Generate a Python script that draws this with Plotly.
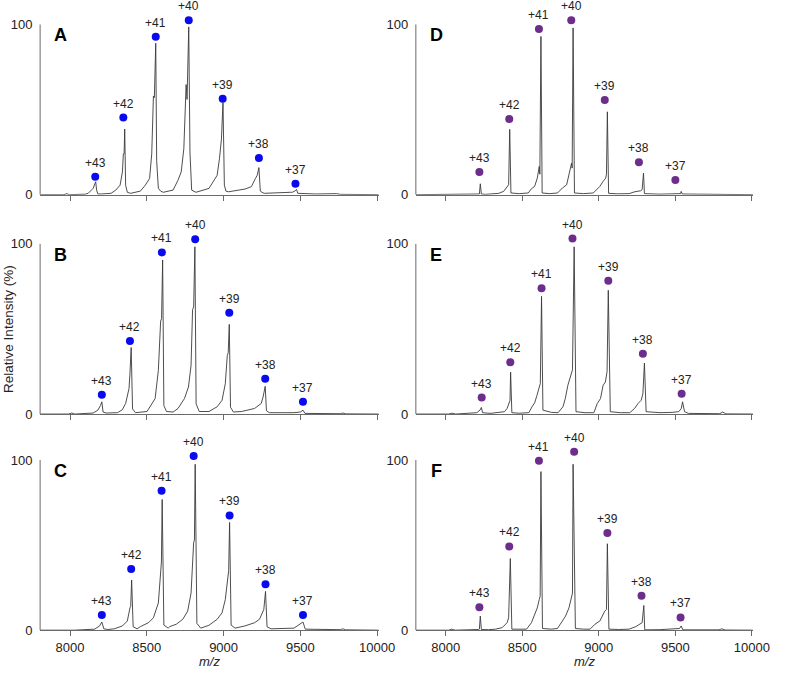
import plotly.graph_objects as go

charges = [43, 42, 41, 40, 39, 38, 37]
x_ticks = [8000, 8500, 9000, 9500, 10000]
y_ticks = [0, 100]

# ---- spectra (m/z, relative intensity) ----
a_mz = [7805, 7960, 7979, 7995, 8100, 8118, 8150, 8160, 8167, 8173, 8181, 8203, 8267, 8298, 8326, 8341, 8347, 8352, 8356, 8362, 8373, 8394,
        8458, 8490, 8518, 8532, 8543, 8549, 8558, 8564, 8575, 8590, 8607, 8671, 8703, 8724, 8741, 8756, 8762, 8773, 8781, 8792, 8820,
        8905, 8937, 8958, 8973, 8986, 8996, 9005, 9015, 9032, 9139, 9181, 9207, 9219, 9230, 9239, 9256, 9266, 9436, 9447, 9464, 9475,
        9483, 9600, 9734, 9760, 10011]
a_int = [0, 0, 0.6, 0, 0.3, 0.8, 3.7, 5.6, 7.6, 2.7, 0.4, 0.4, 0.8, 2.7, 5.6, 13.4, 24, 24, 38.6, 5.6, 1.4, 0.8,
         2.1, 5.6, 9.5, 24, 58, 57, 89, 20, 3.7, 2.1, 1.4, 2.7, 8.5, 13.4, 26.9, 64.7, 56, 98.6, 25, 2.7, 1.4,
         3.7, 8.5, 11.4, 21.1, 32.8, 54.1, 5.6, 2.1, 1.7, 3.3, 4.7, 9.5, 11.4, 15.9, 2.1, 1.1, 0.8, 1.4, 1.4, 2.1, 3.1,
         0.8, 0.4, 0.6, 0.2, 0]

b_mz = [7805, 7990, 8011, 8030, 8150, 8181, 8198, 8207, 8215, 8235, 8309, 8340, 8362, 8384, 8390, 8398, 8407, 8426,
        8501, 8532, 8554, 8575, 8590, 8596, 8603, 8611, 8628, 8671, 8703, 8745, 8771, 8788, 8798, 8805, 8813, 8821, 8841,
        8905, 8958, 8990, 9011, 9024, 9030, 9037, 9045, 9064, 9117, 9202, 9245, 9257, 9271, 9279, 9298, 9458, 9500, 9517,
        9530, 9760, 9777, 9795, 10011]
b_int = [0, 0, 0.6, 0, 0.6, 2.3, 5, 7.2, 1.2, 0.6, 0.8, 2.5, 6.2, 15, 23.6, 39.1, 3, 0.8,
         1.5, 6.2, 9.1, 25.6, 54.7, 56, 90.5, 5, 1.5, 1.2, 3.3, 9.1, 15.9, 28.5, 61.4, 63, 98.3, 6, 1.5,
         1.5, 4.3, 8.1, 17.8, 34.3, 36, 52.7, 4, 1.2, 1.5, 3.3, 6.2, 10, 16.3, 2, 0.8, 0.8, 1.2, 2.3,
         0.4, 0.2, 0.6, 0.1, 0]

c_mz = [7805, 7990, 8011, 8030, 8160, 8192, 8207, 8220, 8245, 8288, 8341, 8373, 8390, 8395, 8401, 8411, 8437,
        8458, 8511, 8543, 8575, 8590, 8595, 8600, 8611, 8639, 8649, 8692, 8734, 8766, 8788, 8805, 8810, 8815, 8826, 8851,
        8905, 8958, 8990, 9011, 9028, 9033, 9039, 9049, 9075, 9139, 9202, 9234, 9262, 9273, 9283, 9309, 9458, 9500, 9517,
        9532, 9760, 9777, 9795, 10011]
c_int = [0, 0, 0.4, 0, 0.6, 2.5, 4.8, 0.8, 0.4, 0.8, 2.5, 5.4, 13.1, 14, 29.5, 2, 0.8,
         2.1, 4.4, 7.3, 16, 39.2, 40, 76.8, 3, 1.2, 2.1, 3.5, 6.4, 11.2, 21.8, 51.7, 53, 97.5, 4, 1.2,
         2.9, 6.4, 10.2, 18, 34.4, 35, 63.3, 3, 1.2, 2.5, 4.4, 6.4, 12.2, 22.8, 2, 0.8, 1.2, 3.5, 4.8,
         0.6, 0.3, 0.8, 0.2, 0]

d_mz = [7805, 8200, 8220, 8226, 8233, 8260, 8347, 8379, 8401, 8411, 8418, 8426, 8480, 8539, 8560, 8581, 8598, 8611,
        8615, 8622, 8630, 8680, 8730, 8762, 8790, 8805, 8822, 8826, 8832, 8841, 8900, 8964, 8985, 9007, 9028, 9045, 9050,
        9056, 9064, 9120, 9198, 9230, 9273, 9283, 9292, 9298, 9400, 9534, 9538, 9545, 10006]
d_int = [0, 0, 0.4, 6.4, 0.4, 0.2, 0.8, 2, 4.3, 5.8, 38.4, 1, 0.6, 1, 3.5, 4.9, 9.7, 16.6,
         12, 93, 1, 0.6, 1, 3.9, 5.8, 11.7, 18.5, 15.6, 98, 1, 0.6, 1, 2.9, 4.9, 7.8, 9.7, 12,
         48.7, 0.8, 0.5, 0.6, 1.6, 2.3, 2.9, 12.7, 0.6, 0.3, 0.6, 1.9, 0.4, 0]

e_mz = [7805, 8020, 8043, 8065, 8203, 8224, 8233, 8241, 8290, 8352, 8384, 8401, 8415, 8420, 8424, 8432, 8480,
        8543, 8564, 8581, 8596, 8611, 8618, 8626, 8635, 8690, 8734, 8766, 8781, 8798, 8815, 8828, 8839, 8851, 8910,
        8968, 8990, 9011, 9028, 9043, 9054, 9062, 9075, 9140, 9202, 9234, 9256, 9277, 9288, 9298, 9309, 9400, 9479,
        9522, 9539, 9547, 9560, 9585, 9790, 9809, 9830, 10006]
e_int = [0, 0, 0.5, 0, 0.8, 2.3, 3.9, 0.8, 0.4, 0.8, 1.4, 3.3, 6.2, 8, 24.6, 0.8, 0.5,
         0.8, 4.3, 6.6, 11, 15.9, 18, 69.2, 2.3, 1, 0.8, 4.3, 9.1, 16.9, 21.7, 26, 98.3, 1.4, 0.8,
         0.8, 6.2, 9.1, 16.9, 18.8, 25, 72.7, 1.4, 0.8, 0.8, 3.3, 6.2, 8.1, 12, 30, 1.4, 0.8, 1,
         1.4, 3.3, 7.2, 1.4, 0.4, 0.2, 1.2, 0.1, 0]

f_mz = [7805, 8020, 8039, 8060, 8215, 8220, 8226, 8233, 8280, 8326, 8369, 8401, 8411, 8422, 8432, 8480, 8528,
        8560, 8581, 8598, 8611, 8617, 8622, 8632, 8690, 8730, 8762, 8783, 8805, 8822, 8828, 8832, 8847, 8900, 8943,
        8975, 9007, 9039, 9050, 9056, 9066, 9130, 9198, 9241, 9273, 9283, 9294, 9300, 9400, 9528, 9538, 9549, 9785,
        9804, 9825, 10006]
f_int = [0, 0, 0.6, 0, 0.4, 0.6, 8.3, 0.4, 0.3, 0.6, 1.5, 4.4, 7.3, 42.1, 0.6, 0.4, 0.6,
         4.4, 9.3, 13.1, 18, 20, 93.2, 1, 0.6, 1, 5.4, 8.3, 13.1, 20.8, 21.8, 97.5, 1, 0.6, 0.6,
         3.5, 5.4, 11.2, 12.2, 50.8, 0.6, 0.4, 0.6, 2.1, 3.5, 4.4, 14.5, 0.2, 0.3, 1, 2.5, 0.2, 0.2,
         0.8, 0.1, 0]

# ---- charge-state markers ----
a_dot_mz = [8164, 8347, 8558, 8773, 8994, 9230, 9468]
a_dot_int = [10.5, 45.3, 92.8, 102.5, 56.4, 21.5, 6.4]
b_dot_mz = [8207, 8390, 8598, 8815, 9037, 9271, 9517]
b_dot_int = [11.4, 43.0, 95, 102.7, 59.5, 20.7, 7.2]
c_dot_mz = [8207, 8398, 8596, 8805, 9039, 9273, 9517]
c_dot_int = [8.9, 35.9, 82, 102.3, 67.4, 27, 8.9]
d_dot_mz = [8220, 8415, 8609, 8820, 9039, 9262, 9500]
d_dot_int = [13.3, 44.4, 97.3, 102.5, 55.6, 19.1, 8.6]
e_dot_mz = [8235, 8422, 8626, 8828, 9062, 9288, 9541]
e_dot_int = [9.7, 30.4, 74, 103.1, 78.3, 35.5, 12]
f_dot_mz = [8220, 8415, 8609, 8839, 9056, 9279, 9534]
f_dot_int = [13.5, 49.2, 99.6, 104.8, 57.1, 20.3, 7.5]

panel_letters = ["A", "B", "C", "D", "E", "F"]

BLUE = "#0a0aee"
PURPLE = "#6c2d8c"
LINE = "#3a3a3a"
AXIS = "#6a6a6a"
FONT = "Liberation Sans, Arial, sans-serif"

W, H = 790, 679
Y_TOP = 108          # headroom above 100 so dots over the tallest peaks stay visible
PX_PER_UNIT = 1.722  # vertical pixels per intensity unit

panels = [
    (a_mz, a_int, a_dot_mz, a_dot_int, BLUE),
    (b_mz, b_int, b_dot_mz, b_dot_int, BLUE),
    (c_mz, c_int, c_dot_mz, c_dot_int, BLUE),
    (d_mz, d_int, d_dot_mz, d_dot_int, PURPLE),
    (e_mz, e_int, e_dot_mz, e_dot_int, PURPLE),
    (f_mz, f_int, f_dot_mz, f_dot_int, PURPLE),
]
col_px = [(41, 387), (425, 770)]
row_zero_px = [197, 419, 637.7]

fig = go.Figure()
layout = dict(
    width=W, height=H,
    margin=dict(l=0, r=0, t=0, b=0),
    paper_bgcolor="white", plot_bgcolor="white",
    showlegend=False, hovermode=False,
    font=dict(family=FONT, size=13, color="#222"),
)
annotations = []
shapes = []

for i, (mz, inten, dmz, dint, col) in enumerate(panels):
    k = i + 1
    c = 0 if i < 3 else 1
    r = i % 3
    xa = "x" if k == 1 else f"x{k}"
    ya = "y" if k == 1 else f"y{k}"
    xname = "xaxis" if k == 1 else f"xaxis{k}"
    yname = "yaxis" if k == 1 else f"yaxis{k}"
    x0, x1 = col_px[c]
    yb = row_zero_px[r]
    yt = yb - PX_PER_UNIT * Y_TOP
    layout[xname] = dict(
        domain=[x0 / W, x1 / W], range=[7805, 10010], anchor=ya,
        showgrid=False, zeroline=False, showline=True, linecolor=AXIS, linewidth=1,
        ticks="outside", ticklen=5, tickcolor=AXIS, tickwidth=1,
        tickvals=x_ticks, ticktext=[str(v) for v in x_ticks],
        showticklabels=(r == 2), tickfont=dict(size=13, color="#222"),
    )
    layout[yname] = dict(
        domain=[1 - yb / H, 1 - yt / H], range=[0, Y_TOP], anchor=xa,
        showgrid=False, zeroline=False, showline=False,
        ticks="outside", ticklen=4, tickcolor="rgba(0,0,0,0)",
        tickvals=y_ticks, ticktext=[str(v) for v in y_ticks],
        tickfont=dict(size=13, color="#222"),
    )
    # y axis line only from 0 to 100
    shapes.append(dict(
        type="line", xref=f"{xa} domain", yref=ya, x0=0, x1=0, y0=0, y1=100,
        line=dict(color=AXIS, width=1),
    ))
    fig.add_trace(go.Scatter(
        x=mz, y=inten, mode="lines", xaxis=xa, yaxis=ya,
        line=dict(color=LINE, width=0.9), hoverinfo="skip",
    ))
    fig.add_trace(go.Scatter(
        x=dmz, y=dint, mode="markers", xaxis=xa, yaxis=ya,
        marker=dict(color=col, size=8), cliponaxis=False,
    ))
    for z, xv, yv in zip(charges, dmz, dint):
        annotations.append(dict(
            x=xv, y=yv, xref=xa, yref=ya, text=f"+{z}", showarrow=False,
            yshift=14, font=dict(size=12, color="#222", family=FONT),
        ))
    annotations.append(dict(
        x=0.06, y=(100 - 6.4) / Y_TOP, xref=f"{xa} domain", yref=f"{ya} domain",
        text=f"<b>{panel_letters[i]}</b>", showarrow=False,
        xanchor="center", yanchor="middle",
        font=dict(size=18, color="black", family=FONT),
    ))
    if r == 2:
        annotations.append(dict(
            x=0.5, y=1 - 669 / H, xref=f"{xa} domain", yref="paper",
            text="<i>m/z</i>", showarrow=False, yanchor="middle",
            font=dict(size=13, color="#222", family=FONT),
        ))

annotations.append(dict(
    x=8 / W, y=1 - 333 / H, xref="paper", yref="paper",
    text="Relative Intensity (%)", textangle=-90, showarrow=False,
    xanchor="center", yanchor="middle",
    font=dict(size=13.5, color="#222", family=FONT),
))
layout["annotations"] = annotations
layout["shapes"] = shapes
fig.update_layout(**layout)
fig.write_html(
    "out.html",
    config={"displayModeBar": False, "staticPlot": True},
    post_script="document.body.style.margin='0';document.body.style.padding='0';",
)
